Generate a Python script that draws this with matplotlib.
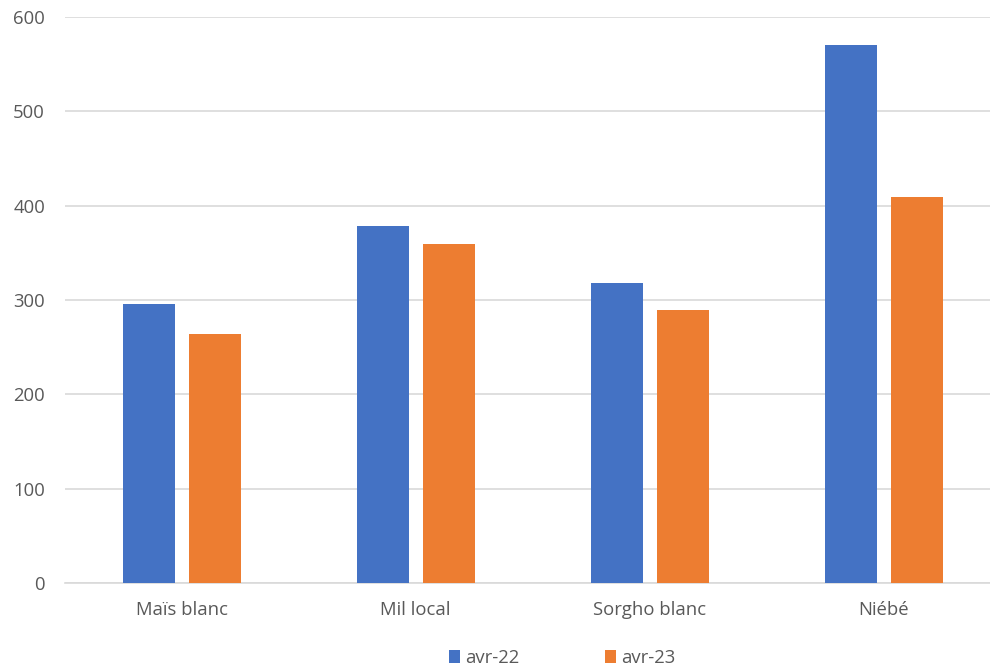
import matplotlib
matplotlib.use("Agg")
import matplotlib.pyplot as plt
import numpy as np

categories = ["Maïs blanc", "Mil local", "Sorgho blanc", "Niébé"]
series_names = ["avr-22", "avr-23"]
avr22 = [296, 378, 318, 570]
avr23 = [264, 359, 289, 409]
yticks = [0, 100, 200, 300, 400, 500, 600]

plt.rcParams['font.family'] = ['Open Sans', 'DejaVu Sans']
fig = plt.figure(figsize=(9.9, 6.67), dpi=100)
ax = fig.add_axes([0.0652, 0.126, 0.9455, 0.8485])

x = np.arange(len(categories))
w = 0.222
off = 0.141
b1 = ax.bar(x - off, avr22, w, color="#4472C4", label=series_names[0], zorder=3)
b2 = ax.bar(x + off, avr23, w, color="#ED7D31", label=series_names[1], zorder=3)

ax.set_xlim(-0.5, 3.5)
ax.set_ylim(0, 600)
ax.set_yticks(yticks)
ax.set_xticks(x)
ax.set_xticklabels(categories)
ax.yaxis.grid(True, color="#D9D9D9", linewidth=1.2, zorder=0)
for s in ["top", "right", "left"]:
    ax.spines[s].set_visible(False)
ax.spines["bottom"].set_color("#D9D9D9")
ax.spines["bottom"].set_linewidth(1.2)
ax.tick_params(axis="both", length=0, colors="#595959", labelsize=13.3)
ax.tick_params(axis="x", pad=13)
ax.tick_params(axis="y", pad=14)

leg = fig.legend(handles=[b1, b2], loc="center", bbox_to_anchor=(0.568, 0.013),
                 ncol=2, frameon=False, fontsize=13.3, handlelength=0.6,
                 handleheight=0.7, handletextpad=0.3, columnspacing=4.6)
for t in leg.get_texts():
    t.set_color("#595959")

fig.savefig("out.png", dpi=100)
